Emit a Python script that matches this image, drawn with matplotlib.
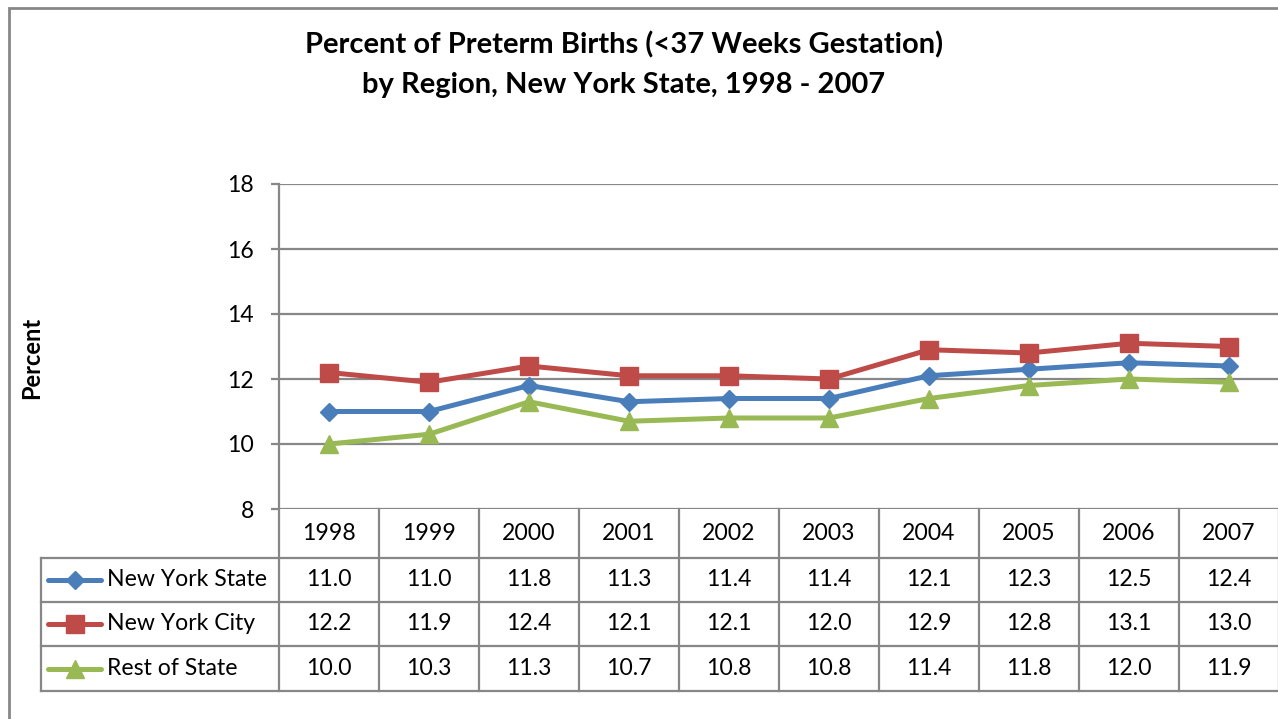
import matplotlib
matplotlib.use('Agg')
import matplotlib.pyplot as plt
from matplotlib.transforms import blended_transform_factory
from matplotlib.lines import Line2D
from matplotlib.patches import Rectangle

years = ['1998', '1999', '2000', '2001', '2002', '2003', '2004', '2005', '2006', '2007']
new_york_state = [11.0, 11.0, 11.8, 11.3, 11.4, 11.4, 12.1, 12.3, 12.5, 12.4]
new_york_city = [12.2, 11.9, 12.4, 12.1, 12.1, 12.0, 12.9, 12.8, 13.1, 13.0]
rest_of_state = [10.0, 10.3, 11.3, 10.7, 10.8, 10.8, 11.4, 11.8, 12.0, 11.9]
series_names = ['New York State', 'New York City', 'Rest of State']
y_ticks = [8, 10, 12, 14, 16, 18]
title_lines = ['Percent of Preterm Births (<37 Weeks Gestation)',
               'by Region, New York State, 1998 - 2007']
y_label = 'Percent'

plt.rcParams['font.family'] = ['Lato', 'DejaVu Sans']

W, H = 1278, 719
fig = plt.figure(figsize=(W / 100, H / 100), dpi=100)
fig.patch.set_facecolor('white')


def fx(x):
    return x / W


def fy(y):
    return 1 - y / H


GRAY = '#878787'
colors = ['#4A7EBB', '#BE4B48', '#98B954']
markers = ['D', 's', '^']
msizes = [9.5, 13, 13]
series = [new_york_state, new_york_city, rest_of_state]
TXT = 16.6

# outer chart frame
fig.patches.append(Rectangle((fx(9), fy(800)), 1.2, fy(8) - fy(800),
                             transform=fig.transFigure, fill=False,
                             edgecolor=GRAY, lw=2))

ax = fig.add_axes([fx(279), fy(509), 1000 / W, (509 - 184) / H])
ax.set_facecolor('none')
x = list(range(len(years)))
for vals, c, m, ms in zip(series, colors, markers, msizes):
    ax.plot(x, vals, color=c, lw=3.6, marker=m, ms=ms, mfc=c, mec=c,
            zorder=3, clip_on=False)

ax.set_xlim(-0.5, len(years) - 0.5)
ax.set_ylim(y_ticks[0], y_ticks[-1])
ax.set_yticks(y_ticks)
ax.set_yticklabels([str(t) for t in y_ticks])
ax.set_xticks([])
ax.grid(axis='y', color=GRAY, lw=1.6)
ax.set_axisbelow(True)
for s in ['top', 'right', 'bottom']:
    ax.spines[s].set_visible(False)
ax.spines['left'].set_color(GRAY)
ax.spines['left'].set_linewidth(1.6)
ax.tick_params(axis='y', direction='out', length=6, width=1.6, color=GRAY,
               labelsize=TXT, pad=12)

# data table
tr = blended_transform_factory(ax.transData, fig.transFigure)
row_lines = [558, 602, 646, 691]
for i in range(len(years) + 1):
    b = i - 0.5
    fig.add_artist(Line2D([b, b], [fy(509), fy(691)], transform=tr,
                          color=GRAY, lw=1.6))
fig.add_artist(Line2D([fx(41), fx(41)], [fy(558), fy(691)],
                      transform=fig.transFigure, color=GRAY, lw=1.6))
for r in row_lines:
    fig.add_artist(Line2D([fx(41), fx(1290)], [fy(r), fy(r)],
                          transform=fig.transFigure, color=GRAY, lw=1.6))

for i, yr in enumerate(years):
    fig.text(i, fy(533), yr, transform=tr, ha='center', va='center',
             fontsize=TXT)

row_centers = [(row_lines[k] + row_lines[k + 1]) / 2 for k in range(3)]
for k, (name, vals, c, m, ms) in enumerate(zip(series_names, series, colors,
                                               markers, msizes)):
    yc = fy(row_centers[k])
    for i, v in enumerate(vals):
        fig.text(i, yc, f'{v:.1f}', transform=tr, ha='center', va='center',
                 fontsize=TXT)
    fig.add_artist(Line2D([fx(48), fx(101)], [yc, yc], transform=fig.transFigure,
                          color=c, lw=3.6, solid_capstyle='round'))
    fig.add_artist(Line2D([fx(74.5)], [yc], transform=fig.transFigure,
                          color=c, marker=m, ms=ms, mfc=c, mec=c, lw=0))
    fig.text(fx(107), yc, name, ha='left', va='center', fontsize=TXT)

# titles
fig.text(fx(624), fy(45), title_lines[0], ha='center', va='center',
         fontsize=21, fontweight='bold')
fig.text(fx(624), fy(85), title_lines[1], ha='center', va='center',
         fontsize=21, fontweight='bold')
fig.text(fx(32), fy(358), y_label, rotation=90, ha='center', va='center',
         fontsize=17, fontweight='bold')

fig.savefig('out.png', dpi=100)
